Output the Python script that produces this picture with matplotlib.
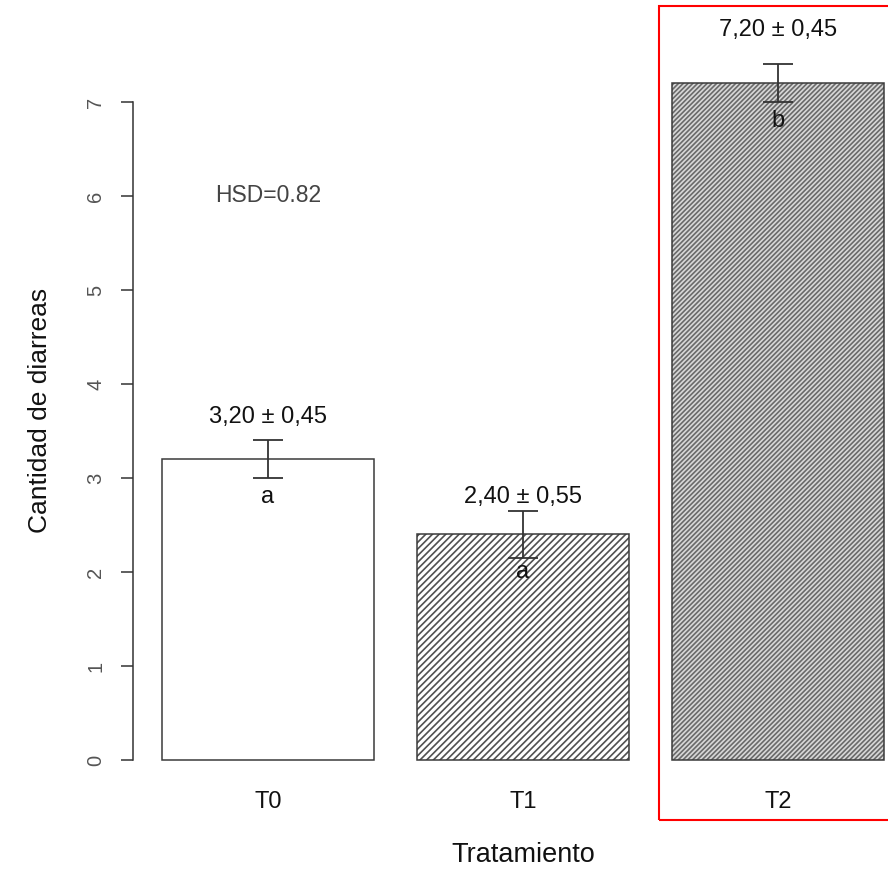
import matplotlib
matplotlib.use("Agg")
import matplotlib.pyplot as plt
from matplotlib.patches import Rectangle

plt.rcParams['font.family'] = ['Liberation Sans', 'DejaVu Sans']
plt.rcParams['hatch.linewidth'] = 1.2

# Data
categories = ["T0", "T1", "T2"]
means = [3.2, 2.4, 7.2]
errors = [0.2, 0.25, 0.2]
value_labels = ["3,20 ± 0,45", "2,40 ± 0,55", "7,20 ± 0,45"]
letters = ["a", "a", "b"]
hsd_text = "HSD=0.82"
yticks = [0, 1, 2, 3, 4, 5, 6, 7]

# Styles
label_offsets = [0.25, 0.15, 0.37]
facecolors = ["white", "white", "#d8d8d8"]
hatches = [None, "/////", "///////"]
hatch_colors = [None, "#505050", "#6a6a6a"]

W, H = 888, 873
fig = plt.figure(figsize=(W / 100, H / 100), dpi=100)
ax = fig.add_axes([133 / W, (H - 770) / H, (W - 133) / W, (770 - 20) / H])

x = list(range(len(categories)))
ymin = -(770 - 760) / 94
ymax = (760 - 20) / 94
xmin = -(268 - 133) / 255
xmax = 2 + (888 - 778) / 255
ax.set_xlim(xmin, xmax)
ax.set_ylim(ymin, ymax)

for i in x:
    if hatches[i]:
        ax.bar(i, means[i], width=212 / 255, facecolor=facecolors[i],
               edgecolor=hatch_colors[i], linewidth=0, hatch=hatches[i],
               zorder=2)
    ax.bar(i, means[i], width=212 / 255,
           facecolor="white" if not hatches[i] else "none",
           edgecolor="#3a3a3a", linewidth=1.1, zorder=3)

ax.errorbar(x, means, yerr=errors, fmt="none", ecolor="#333333",
            elinewidth=1.3, capsize=11, capthick=1.3, zorder=4)

for i in x:
    ax.text(i, means[i] + errors[i] + label_offsets[i], value_labels[i],
            ha="center", va="center", fontsize=17, color="#111111", zorder=5)
    ax.text(i, means[i] - 0.4, letters[i], ha="center", va="center",
            fontsize=17, color="#111111", zorder=5)

ax.text(0, 6.0, hsd_text, ha="center", va="center", fontsize=16.5,
        color="#444444")

for s in ["top", "right", "bottom"]:
    ax.spines[s].set_visible(False)
ax.spines["left"].set_bounds(0, 7)
ax.spines["left"].set_color("#333333")
ax.spines["left"].set_linewidth(1.1)

ax.set_yticks(yticks)
ax.set_yticklabels([str(t) for t in yticks], rotation=90, va="center",
                   fontsize=14.5, color="#555555")
ax.tick_params(axis="y", length=9, width=1.1, color="#333333", pad=11)

ax.set_xticks(x)
ax.set_xticklabels(categories, fontsize=17, color="#111111")
ax.tick_params(axis="x", length=0, pad=15)

fig.text(40 / W, 1 - 410 / H, "Cantidad de diarreas", rotation=90,
         ha="center", va="center", fontsize=19, color="#111111")
fig.text(523 / W, 1 - 855 / H, "Tratamiento", ha="center", va="center",
         fontsize=19.5, color="#111111")

rect = Rectangle((659 / W, 1 - 820 / H), (W + 5 - 659) / W, (820 - 6) / H,
                 transform=fig.transFigure, fill=False, edgecolor="red",
                 linewidth=1.5, clip_on=False)
fig.patches.append(rect)

fig.savefig("out.png", dpi=100)
